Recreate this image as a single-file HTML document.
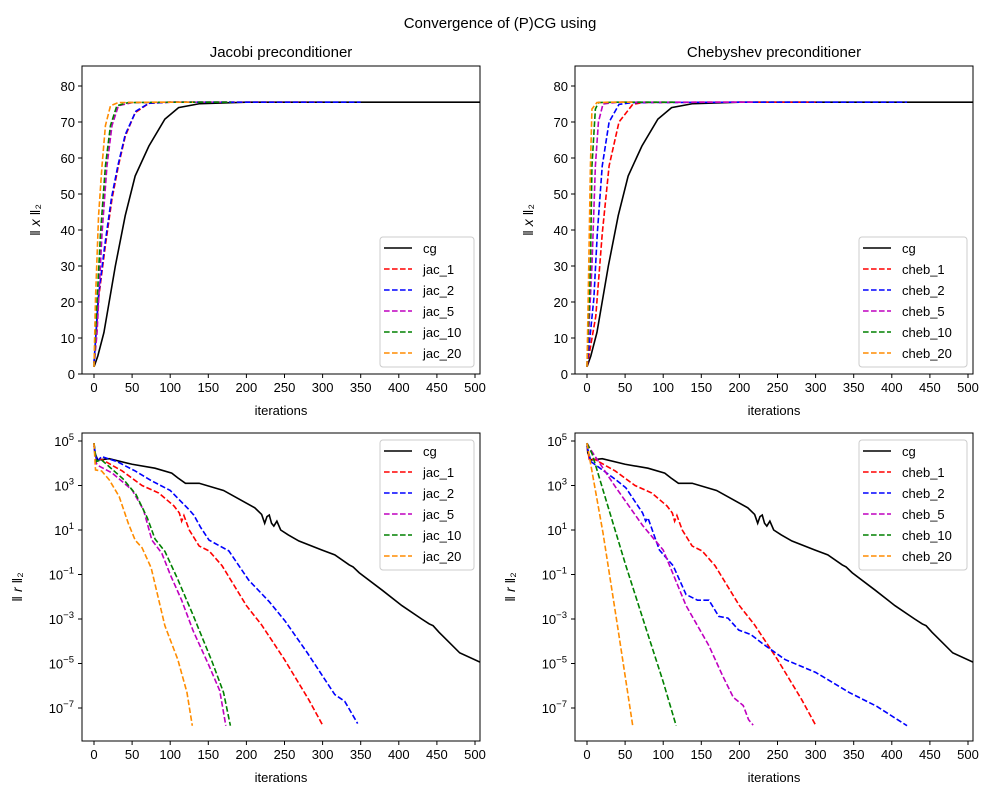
<!DOCTYPE html>
<html><head><meta charset="utf-8">
<style>
html,body{margin:0;padding:0;background:#fff;}
svg{display:block;font-family:"Liberation Sans","DejaVu Sans",sans-serif;}
</style></head>
<body>
<svg id="fig" width="1000" height="800" viewBox="0 0 1000 800" xmlns="http://www.w3.org/2000/svg">
<rect width="1000" height="800" fill="#fff"/>
<text x="500" y="28" font-size="15" text-anchor="middle">Convergence of (P)CG using</text>
</svg>
<script>
// ---------- data ----------
const xTicks=[0,50,100,150,200,250,300,350,400,450,500];
const linTicks=[0,10,20,30,40,50,60,70,80];
const logTicks=[5,3,1,-1,-3,-5,-7];
const colors=["black","red","blue","#bf00bf","green","darkorange"];
const jacNames=["cg","jac_1","jac_2","jac_5","jac_10","jac_20"];
const chebNames=["cg","cheb_1","cheb_2","cheb_5","cheb_10","cheb_20"];

// ||x|| curves (iterations / values)
const cgXIt=[0,5,13,28,41,54,72,93,111,139,200,300,400,510];
const cgXVal=[2,5,11.5,30,44,55,63.3,70.8,74,75.1,75.5,75.5,75.5,75.5];
const jac1XIt=[0,6,14.5,23.6,32,41,54,72,100,150,300];
const jac1XVal=[3,21,35,48.6,57.8,66,72.6,75.2,75.5,75.5,75.5];
const jac2XIt=[0,5.5,14,23,31.5,41,55,72,100,200,350];
const jac2XVal=[3,21,35.5,49,58,66.5,73,75.2,75.5,75.5,75.5];
const jac5XIt=[0,4,10.5,17,23.6,32,50,100,175];
const jac5XVal=[2,11.5,39,57.8,69,74.5,75.4,75.5,75.5];
const jac10XIt=[0,2,8.5,15,21.6,30,45,100,180];
const jac10XVal=[2,11.5,39,57.8,69,74.5,75.4,75.5,75.5];
const jac20XIt=[0,2,6,10.5,15,21.6,32,80,130];
const jac20XVal=[2,21,44,57.8,69,74.5,75.4,75.5,75.5];
const cheb1XIt=[0,11.5,20,29,42,60,73,150,300];
const cheb1XVal=[2,16,39,57.8,70,74.9,75.4,75.5,75.5];
const cheb2XIt=[0,9,13.5,20,29,42,60,200,420];
const cheb2XVal=[2,21,39,57.8,70,74.9,75.4,75.5,75.5];
const cheb5XIt=[0,6.5,11,15,21,40,218];
const cheb5XVal=[2,30,57.8,70,75,75.5,75.5];
const cheb10XIt=[0,4.5,6.5,11,15,40,117];
const cheb10XVal=[2,30,57.8,73.6,75.4,75.5,75.5];
const cheb20XIt=[0,2.3,4.5,6.5,13,30,60];
const cheb20XVal=[2,30,57.8,73.6,75.4,75.5,75.5];

// ||r|| curves (iterations / residual)
const cgRIt=[0,1,5,20,50,80,102,110,120,138,170,211,220,224,227,230,233,236,240,245,255,269,299,316,335,340,348,378,404,430,440,445,453,480,508];
const cgRVal=[8e4,3e4,1.4e4,1.6e4,9e3,6e3,3.6e3,2.2e3,1.26e3,1.26e3,6e2,1e2,5e1,2e1,4e1,4.7e1,2e1,1.5e1,2.5e1,1e1,6,3.2,1.26,7.6e-1,2.7e-1,2.2e-1,1.2e-1,2e-2,4e-3,1e-3,6e-4,5e-4,2.5e-4,3e-5,1.1e-5];
const jac1RIt=[0,3,10,37,63,85,105,112,115,118,125,138,151,168,200,220,250,282,300];
const jac1RVal=[6e4,1.5e4,1.5e4,4.5e3,1e3,4.6e2,1.2e2,5.8e1,2.5e1,4.5e1,1e1,1.9,1.15,2.5e-1,4e-3,5.4e-4,1.5e-5,2.3e-7,1.7e-8];
const jac2RIt=[0,4,10,30,54,76,100,125,131,140,151,177,203,230,251,280,316,329,346];
const jac2RVal=[6e4,1.2e4,2e4,1.2e4,4.5e3,1.6e3,6e2,8e1,4.7e1,1.3e1,3.5,1.15,5.6e-2,6e-3,7.9e-4,3e-5,4e-7,2e-7,2e-8];
const jac5RIt=[0,3,5,24,50,65,76,89,100,115,130,151,165,173];
const jac5RVal=[8e4,1e4,8e3,3.6e3,6.3e2,8e1,3.5,9e-1,1e-1,7e-3,3e-4,7.9e-6,6e-7,1.6e-8];
const jac10RIt=[0,3,10,38,55,70,80,93,110,130,155,170,179];
const jac10RVal=[8e4,1.2e4,1.4e4,2e3,4e2,3.5e1,4,1.1,6e-2,1.5e-3,1.2e-5,5e-7,1.6e-8];
const jac20RIt=[0,2,10,20,33,45,54,63,75,93,110,122,129];
const jac20RVal=[8e4,5e3,4.5e3,1.8e3,3.2e2,2e1,3.5,1.6,2e-1,5e-4,1.5e-5,5e-7,1.6e-8];
const cheb1RIt=jac1RIt;
const cheb1RVal=jac1RVal;
const cheb2RIt=[0,5,38,51,73,77,80,95,113,130,145,160,173,185,199,215,230,260,300,344,380,420];
const cheb2RVal=[6e4,1.2e4,1.8e3,7.9e2,5.8e1,2.5e1,3.5e1,1.26,2.5e-1,1.26e-2,7e-3,7e-3,1.3e-3,1.1e-3,3.2e-4,2e-4,8e-5,1.5e-5,4e-6,5e-7,1.2e-7,1.6e-8];
const cheb5RIt=[0,5,38,73,100,130,160,178,192,205,212,218];
const cheb5RVal=[8e4,4e4,8e2,1.6e1,1.26,4e-3,6.3e-5,2.8e-6,3e-7,1.3e-7,3e-8,1.7e-8];
const cheb10RIt=[0,7,25,51,80,100,117];
const cheb10RVal=[8e4,2.5e4,2.2e2,2.5e-1,2e-4,1.5e-6,1.6e-8];
const cheb20RIt=[0,1,21,40,60];
const cheb20RVal=[8e4,5e4,7.4,5e-4,1.6e-8];

// ---------- drawing ----------
const NS="http://www.w3.org/2000/svg";
const svg=document.getElementById('fig');
function mk(tag,attrs,parent){const e=document.createElementNS(NS,tag);for(const k in attrs)e.setAttribute(k,attrs[k]);(parent||svg).appendChild(e);return e;}

function panel(cfg){
  const L=cfg.left,T=cfg.top,W=398,H=308;
  const g=mk('g',{});
  
  
  const xs=v=>L+12+(v)*0.762;
  const ys=cfg.log ? v=>T+8+(5-Math.log10(v))*22.25 : v=>T+H-v*3.6;
  const clip='clip-'+cfg.name;
  const cp=mk('clipPath',{id:clip},g);mk('rect',{x:L,y:T,width:W,height:H},cp);
  cfg.series.forEach((s,i)=>{
    let d='';
    s.it.forEach((v,j)=>{d+=(j?'L':'M')+xs(v).toFixed(2)+','+ys(s.val[j]).toFixed(2);});
    const p=mk('path',{d:d,fill:'none',stroke:colors[i],'stroke-width':1.6,'clip-path':'url(#'+clip+')','stroke-dasharray':i?'5.6,2.4':'none'},g);
    
    
  });
  mk('rect',{x:L,y:T,width:W,height:H,fill:'none',stroke:'#000','stroke-width':1},g);
  xTicks.forEach(t=>{
    const x=xs(t);
    mk('line',{x1:x,x2:x,y1:T+H,y2:T+H+4,stroke:'#000'},g);
    const tx=mk('text',{x:x,y:T+H+18,'font-size':13,'text-anchor':'middle'},g);tx.textContent=t;
    
    
  });
  if(cfg.log){
    logTicks.forEach(e=>{
      const y=ys(Math.pow(10,e));
      mk('line',{x1:L-4,x2:L,y1:y,y2:y,stroke:'#000'},g);
      const tx=mk('text',{x:L-8,y:y+5,'font-size':13,'text-anchor':'end'},g);
      
      
      const a=mk('tspan',{},tx);a.textContent='10';
      const b=mk('tspan',{dy:-6,'font-size':9.5},tx);b.textContent=(e<0?'\u2212':'')+Math.abs(e);
    });
  }else{
    linTicks.forEach(t=>{
      const y=ys(t);
      mk('line',{x1:L-4,x2:L,y1:y,y2:y,stroke:'#000'},g);
      const tx=mk('text',{x:L-7,y:y+5,'font-size':13,'text-anchor':'end'},g);tx.textContent=t;
      
      
    });
  }
  const xl=mk('text',{x:L+W/2,y:T+H+41,'font-size':13,'text-anchor':'middle'},g);xl.textContent='iterations';
  
  
  const yx=cfg.log?L-60:L-42;
  const yl=mk('text',{x:yx,y:T+H/2,'font-size':14,'text-anchor':'middle',transform:'rotate(-90 '+yx+' '+(T+H/2)+')'},g);
  
  
  const t1=mk('tspan',{},yl);t1.textContent='\u2016 ';
  const t2=mk('tspan',{'font-style':'italic'},yl);t2.textContent=cfg.log?'r':'x';
  const t3=mk('tspan',{},yl);t3.textContent=' \u2016\u2082';
  if(cfg.title){
    const tt=mk('text',{x:L+W/2,y:T-9,'font-size':15,'text-anchor':'middle'},g);tt.textContent=cfg.title;
    
    
  }
  const lw=cfg.legendW, lx=L+W-lw-6, ly=cfg.log?T+7:T+171;
  const lg=mk('g',{},g);
  
  
  mk('rect',{x:lx,y:ly,width:lw,height:130,rx:3,fill:'#fff','fill-opacity':0.8,stroke:'#ccc'},lg);
  cfg.series.forEach((s,i)=>{
    const yy=ly+11+i*21;
    mk('line',{x1:lx+4,x2:lx+32,y1:yy,y2:yy,stroke:colors[i],'stroke-width':1.6,'stroke-dasharray':i?'5.6,2.4':'none'},lg);
    const tx=mk('text',{x:lx+43,y:yy+5,'font-size':13},lg);tx.textContent=s.label;
    
    
  });
}
function S(labels,its,vals){return labels.map((l,i)=>({label:l,it:its[i],val:vals[i]}));}

panel({name:'jacobi-norm-x',left:82,top:66,log:false,title:'Jacobi preconditioner',legendW:94,
 series:S(jacNames,[cgXIt,jac1XIt,jac2XIt,jac5XIt,jac10XIt,jac20XIt],[cgXVal,jac1XVal,jac2XVal,jac5XVal,jac10XVal,jac20XVal])});
panel({name:'chebyshev-norm-x',left:575,top:66,log:false,title:'Chebyshev preconditioner',legendW:108,
 series:S(chebNames,[cgXIt,cheb1XIt,cheb2XIt,cheb5XIt,cheb10XIt,cheb20XIt],[cgXVal,cheb1XVal,cheb2XVal,cheb5XVal,cheb10XVal,cheb20XVal])});
panel({name:'jacobi-residual',left:82,top:433,log:true,legendW:94,
 series:S(jacNames,[cgRIt,jac1RIt,jac2RIt,jac5RIt,jac10RIt,jac20RIt],[cgRVal,jac1RVal,jac2RVal,jac5RVal,jac10RVal,jac20RVal])});
panel({name:'chebyshev-residual',left:575,top:433,log:true,legendW:108,
 series:S(chebNames,[cgRIt,cheb1RIt,cheb2RIt,cheb5RIt,cheb10RIt,cheb20RIt],[cgRVal,cheb1RVal,cheb2RVal,cheb5RVal,cheb10RVal,cheb20RVal])});
</script>
</body></html>
